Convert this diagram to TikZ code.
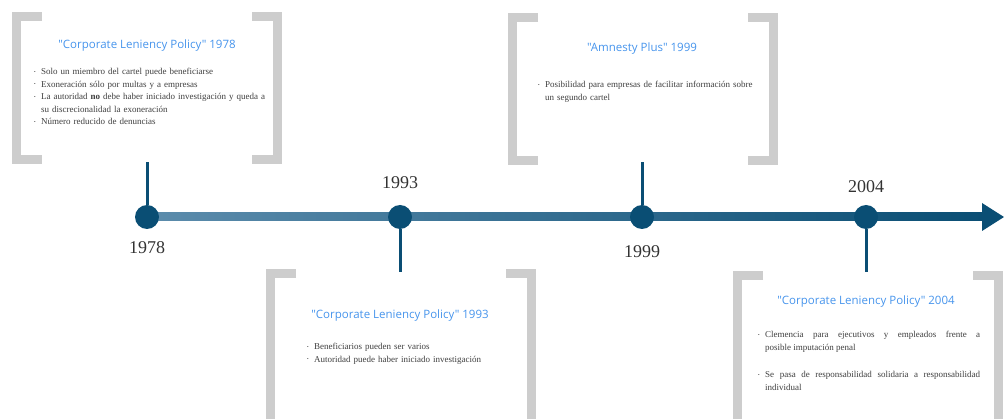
\documentclass[tikz,border=0pt]{standalone}
\usepackage{fontspec}
\setmainfont{Liberation Serif}
\newfontfamily\titlefont{Open Sans}
\usetikzlibrary{positioning,calc}
\definecolor{LineBlue}{RGB}{10,78,116}
\definecolor{LineBlueL}{RGB}{92,140,172}
\definecolor{TitleBlue}{RGB}{70,148,236}
\definecolor{BracketGray}{RGB}{205,205,205}
\definecolor{BodyGray}{RGB}{62,62,62}
\hyphenpenalty=10000
\exhyphenpenalty=10000
% bullet with hanging indent
\newcommand{\bitem}{\par\hangindent=7pt\hangafter=1\noindent\makebox[7pt][l]{\raisebox{0.15em}{\fontsize{4.5}{4.5}\selectfont\textbullet}}}
% pair of grey brackets: left x, right x, top y, bottom y
\newcommand{\bracketpair}[4]{%
    \draw[bracketline] (#1+30,#3+4.5) -- (#1+4.5,#3+4.5) -- (#1+4.5,#4-4.5) -- (#1+30,#4-4.5);
    \draw[bracketline] (#2-30,#3+4.5) -- (#2-4.5,#3+4.5) -- (#2-4.5,#4-4.5) -- (#2-30,#4-4.5);
}

\begin{document}
\begin{tikzpicture}[
        x=1pt, y=-1pt,
        % --- STYLE CÁC PHẦN ---
        bracketline/.style={draw=BracketGray, line width=8.5pt, line join=miter},
        dot/.style={circle, fill=LineBlue, minimum size=24pt, inner sep=0pt},
        stem/.style={draw=LineBlue, line width=3pt},
        year/.style={font=\fontsize{18}{20}\selectfont, text=black!80, inner sep=0pt},
        boxtitle/.style={font=\titlefont\fontsize{11.5}{13}\selectfont, text=TitleBlue, inner sep=0pt},
        boxtext/.style={anchor=north west, inner sep=0pt, text=BodyGray,
            font=\fontsize{9}{12.5}\selectfont, align=left}
    ]
    \clip (0,0) rectangle (1004,419);

    % --- TRỤC THỜI GIAN ---
    \shade[left color=LineBlueL, right color=LineBlue] (147,213) rectangle (984,221);
    \fill[LineBlue] (982,203) -- (1004,217) -- (982,231) -- cycle;

    \node[dot] (d1978) at (147,217) {};
    \node[dot] (d1993) at (400,217) {};
    \node[dot] (d1999) at (642,217) {};
    \node[dot] (d2004) at (866,217) {};

    \node[year] (y1978) at (147,248) {1978};
    \node[year] (y1993) at (400,183) {1993};
    \node[year] (y1999) at (642,252) {1999};
    \node[year] (y2004) at (866,187) {2004};

    \coordinate (s1978) at (147,162);
    \coordinate (s1993) at (400,272);
    \coordinate (s1999) at (642,162);
    \coordinate (s2004) at (866,272);
    \draw[stem] (d1978.north) -- (s1978);
    \draw[stem] (d1993.south) -- (s1993);
    \draw[stem] (d1999.north) -- (s1999);
    \draw[stem] (d2004.south) -- (s2004);

    % --- HỘP 1978 ---
    \bracketpair{12}{282}{12}{164}
    \node[boxtitle] (t1978) at (147,46) {"Corporate Leniency Policy" 1978};
    \node[boxtext, text width=240pt] (b1978) at (34,62) {%
        \bitem Solo un miembro del cartel puede beneficiarse
        \bitem Exoneración sólo por multas y a empresas
        \bitem La autoridad \textbf{no} debe haber iniciado investigación y queda a\newline su discrecionalidad la exoneración
        \bitem Número reducido de denuncias\par};

    % --- HỘP 1999 ---
    \bracketpair{508}{778}{13}{165}
    \node[boxtitle] (t1999) at (642,49) {"Amnesty Plus" 1999};
    \node[boxtext, text width=225pt] (b1999) at (538,75) {%
        \bitem Posibilidad para empresas de facilitar información sobre\newline un segundo cartel\par};

    % --- HỘP 1993 ---
    \bracketpair{266}{536}{269}{440}
    \node[boxtitle] (t1993) at (400,316) {"Corporate Leniency Policy" 1993};
    \node[boxtext, text width=205pt] (b1993) at (307,337) {%
        \bitem Beneficiarios pueden ser varios
        \bitem Autoridad puede haber iniciado investigación\par};

    % --- HỘP 2004 ---
    \bracketpair{733}{1003}{271}{440}
    \node[boxtitle] (t2004) at (866,302) {"Corporate Leniency Policy" 2004};
    \node[boxtext, text width=222pt, align=justify] (b2004) at (758,325) {%
        \bitem Clemencia para ejecutivos y empleados frente a\linebreak posible imputación penal
        \par\vspace{15pt}
        \bitem Se pasa de responsabilidad solidaria a responsabilidad\linebreak individual\par};
\end{tikzpicture}
\end{document}
